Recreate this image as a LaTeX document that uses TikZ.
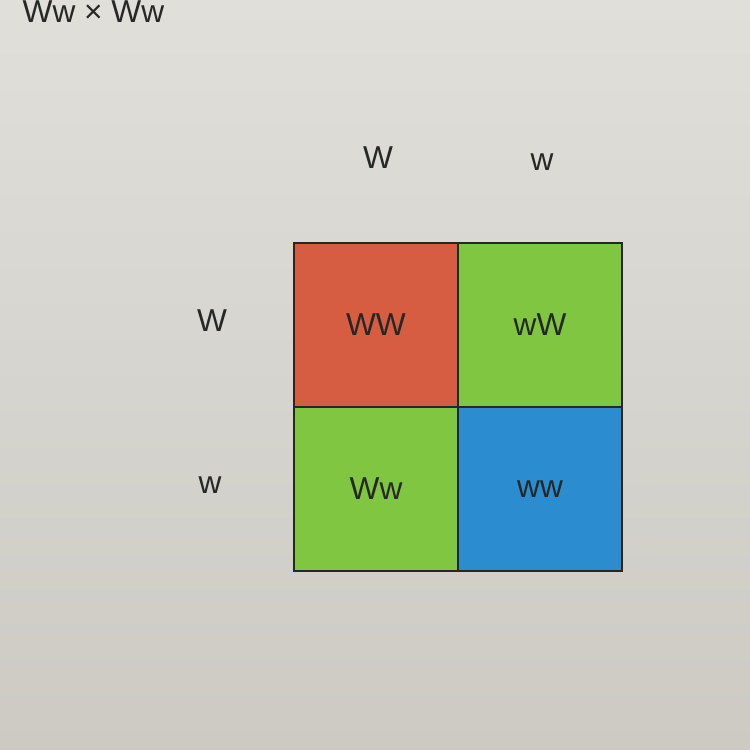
\documentclass[tikz,border=0pt]{standalone}
\usepackage{fontspec}
\setmainfont{Liberation Sans}
\usetikzlibrary{positioning}
\definecolor{screentop}{RGB}{224,223,218}
\definecolor{screenbot}{RGB}{204,202,195}
\definecolor{cellred}{RGB}{214,92,66}
\definecolor{cellgreen}{RGB}{128,198,64}
\definecolor{cellblue}{RGB}{44,140,208}
\definecolor{ink}{RGB}{38,40,38}

\begin{document}
\begin{tikzpicture}[
    x=0.01cm, y=-0.01cm,
    node distance=0pt,
    cell/.style={draw=ink, line width=0.6pt, outer sep=0pt, inner sep=0pt, minimum width=1.64cm, minimum height=1.64cm, font=\fontsize{9}{10}\selectfont, text=ink},
    allele/.style={font=\fontsize{9}{10}\selectfont, text=ink, inner sep=0pt},
]
    \shade[top color=screentop, bottom color=screenbot] (0,0) rectangle (750,750);
    \useasboundingbox (0,0) rectangle (750,750);

    \node[allele, anchor=base west] (cross) at (22,22) {Ww × Ww};

    % punnett square
    \node[cell, fill=cellred] (WW) at (376,325) {WW};
    \node[cell, fill=cellgreen, right=of WW] (wW) {wW};
    \node[cell, fill=cellgreen, below=of WW] (Ww) {Ww};
    \node[cell, fill=cellblue, right=of Ww] (ww) {ww};

    % gametes
    \node[allele, anchor=base] (colW) at (378,168) {W};
    \node[allele, anchor=base] (colw) at (542,170) {w};
    \node[allele, anchor=base] (rowW) at (212,331) {W};
    \node[allele, anchor=base] (roww) at (210,493) {w};
\end{tikzpicture}
\end{document}
